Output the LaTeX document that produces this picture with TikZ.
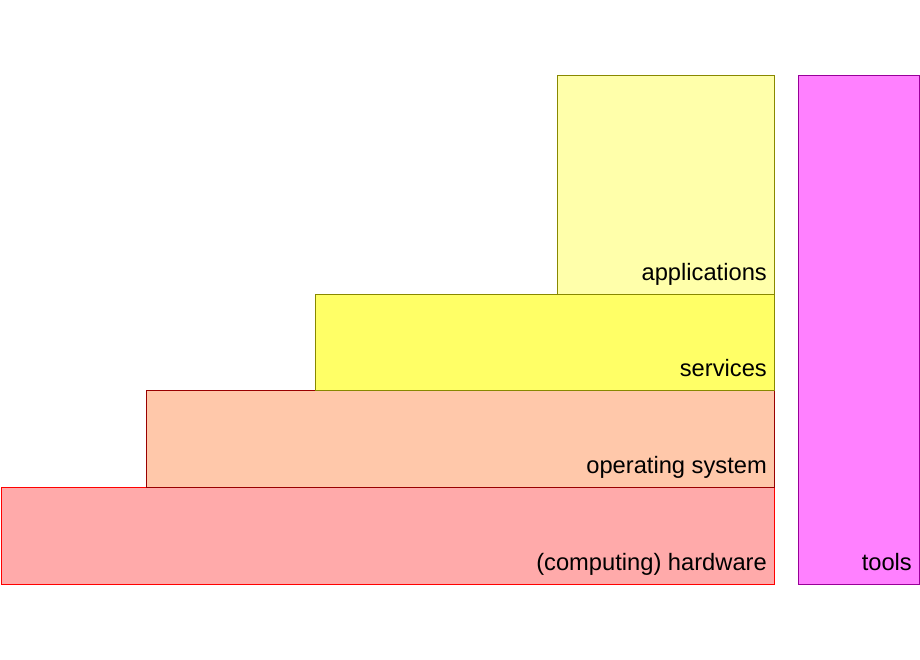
\documentclass[tikz,border=0pt]{standalone}
\usepackage{fontspec}
\setmainfont{Liberation Sans}
\begin{document}
\begin{tikzpicture}[x=1pt,y=-1pt,
  layer/.style={draw, line width=1pt},
  lbl/.style={anchor=base east, inner sep=0pt, font=\fontsize{23.7}{28}\selectfont}]
\definecolor{hwfill}{HTML}{FFAAAA}
\definecolor{osfill}{HTML}{FFC8AA}
\definecolor{svfill}{HTML}{FFFF66}
\definecolor{apfill}{HTML}{FFFFAA}
\definecolor{tlfill}{HTML}{FF80FF}
\definecolor{osline}{HTML}{990000}
\definecolor{olive2}{HTML}{888800}
\definecolor{tlline}{HTML}{990099}
\useasboundingbox (0,0) rectangle (920,660);
\path[layer, fill=hwfill, draw=red] (1,487) rectangle (774,584);
\path[layer, fill=osfill, draw=osline] (146,390) rectangle (774,487);
\path[layer, fill=svfill, draw=olive2] (315,294) rectangle (774,390);
\path[layer, fill=apfill, draw=olive2] (557,76) rectangle (774,294);
\path[layer, fill=tlfill, draw=tlline] (798,76) rectangle (919,584);
\node[lbl] (hw) at (767,570) {(computing) hardware};
\node[lbl] (os) at (767,473) {operating system};
\node[lbl] (sv) at (767,376) {services};
\node[lbl] (ap) at (767,280) {applications};
\node[lbl] (tl) at (912,570) {tools};
\end{tikzpicture}
\end{document}
